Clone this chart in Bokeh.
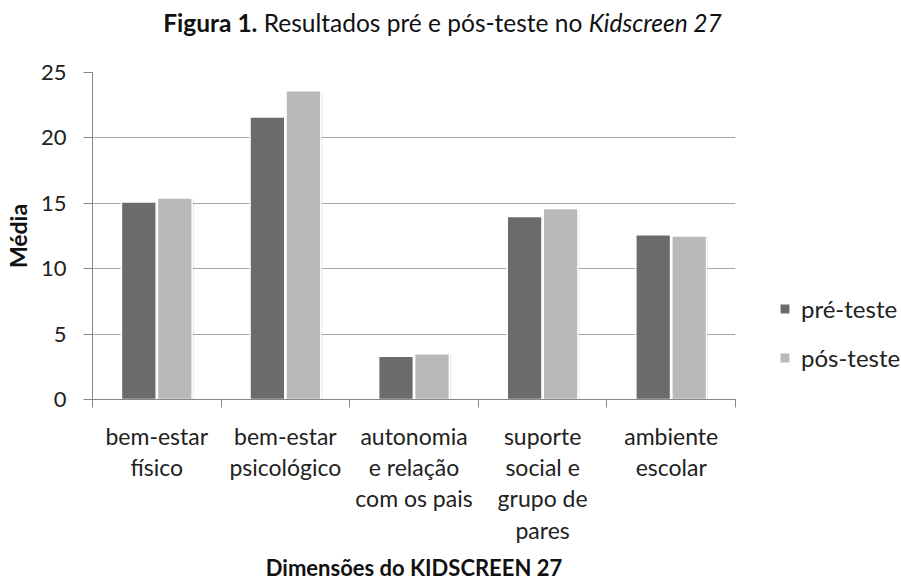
from bokeh.plotting import figure
from bokeh.models import (Range1d, LinearAxis, FixedTicker, Div,
                          Legend, LegendItem, ColumnDataSource)
from bokeh.layouts import column
from bokeh.transform import dodge
from bokeh.embed import file_html
from bokeh.resources import INLINE

categories = ["bem-estar\nfísico", "bem-estar\npsicológico", "autonomia\ne relação\ncom os pais",
              "suporte\nsocial e\ngrupo de\npares", "ambiente\nescolar"]
pre_teste = [15.1, 21.6, 3.3, 14.0, 12.6]
pos_teste = [15.4, 23.6, 3.5, 14.6, 12.5]
y_ticks = [0, 5, 10, 15, 20, 25]
series_names = ["pré-teste", "pós-teste"]
colors = ["#6b6b6b", "#b9b9b9"]
title_bold = "Figura 1."
title_plain = "Resultados pré e pós-teste no"
title_italic = "Kidscreen 27"

FONT = "Lato"
n = len(categories)
centers = [i + 0.5 for i in range(n)]
bounds = list(range(n + 1))

src = ColumnDataSource(dict(x=centers, pre=pre_teste, pos=pos_teste,
                            pre_s=[v - 0.08 for v in pre_teste], pos_s=[v - 0.08 for v in pos_teste]))

p = figure(frame_width=643, frame_height=327, x_range=Range1d(0, n), y_range=Range1d(0, 25),
           output_backend="svg", toolbar_location=None, x_axis_location=None,
           min_border_left=87, min_border_right=155, min_border_top=15, min_border_bottom=176)
p.outline_line_color = None
p.background_fill_color = "white"
p.border_fill_color = "white"

# grid
p.xgrid.grid_line_color = None
p.ygrid.grid_line_color = "#a6a6a6"
p.ygrid.grid_line_width = 1.2
p.yaxis.ticker = FixedTicker(ticks=y_ticks)

# y axis
p.yaxis.axis_line_color = "#878787"
p.yaxis.major_tick_line_color = "#878787"
p.yaxis.major_tick_out = 9
p.yaxis.major_tick_in = 0
p.yaxis.minor_tick_line_color = None
p.yaxis.major_label_text_font = FONT
p.yaxis.major_label_text_font_size = "22px"
p.yaxis.major_label_text_color = "#222222"
p.yaxis.major_label_standoff = 17
p.yaxis.axis_label = "Média"
p.yaxis.axis_label_text_font = FONT
p.yaxis.axis_label_text_font_style = "bold"
p.yaxis.axis_label_text_font_size = "23px"
p.yaxis.axis_label_text_color = "#111111"
p.yaxis.axis_label_standoff = 6

# x axis: labels at category centres, tick marks (minor) at category boundaries
x_axis = LinearAxis(ticker=FixedTicker(ticks=centers, minor_ticks=bounds),
                    major_label_overrides={c: lab for c, lab in zip(centers, categories)},
                    axis_line_color="#878787", major_tick_line_color=None,
                    major_tick_out=8, major_tick_in=0,
                    minor_tick_line_color="#878787", minor_tick_out=8, minor_tick_in=0,
                    major_label_text_font=FONT, major_label_text_font_size="23px",
                    major_label_text_color="#222222", major_label_standoff=14,
                    major_label_text_line_height=1.12,
                    axis_label="Dimensões do KIDSCREEN 27", axis_label_text_font=FONT,
                    axis_label_text_font_style="bold", axis_label_text_font_size="22px",
                    axis_label_text_color="#111111", axis_label_standoff=7)
p.add_layout(x_axis, "below")

# shadows
for key, off in (("pre_s", -0.14), ("pos_s", 0.14)):
    p.vbar(x=dodge("x", off + 0.012), top=key, bottom=-1, width=0.27,
           source=src, fill_color="#000000", fill_alpha=0.10, line_color=None)

r_pre = p.vbar(x=dodge("x", -0.14), top="pre", width=0.27, source=src,
               fill_color=colors[0], line_color="white", line_width=1.5)
r_pos = p.vbar(x=dodge("x", 0.14), top="pos", width=0.27, source=src,
               fill_color=colors[1], line_color="white", line_width=1.5)

legend = Legend(items=[LegendItem(label=series_names[0], renderers=[r_pre]),
                       LegendItem(label=series_names[1], renderers=[r_pos])],
                location=(43, 27), orientation="vertical", padding=0, margin=0,
                border_line_color=None, background_fill_alpha=0,
                glyph_width=13, glyph_height=13, label_standoff=10, spacing=20,
                label_text_font=FONT, label_text_font_size="24px", label_text_color="#222222")
p.add_layout(legend, "right")

title_html = (f'<b>{title_bold}</b> {title_plain} <i>{title_italic}</i>')
title_div = Div(text=title_html, width=885, height=57, margin=(0, 0, 0, 0),
                styles={"font-family": FONT, "font-size": "24.5px", "color": "#111111",
                        "text-align": "center", "line-height": "28px", "padding-top": "9px",
                        "width": "885px", "display": "block"})

layout = column(title_div, p, spacing=0)
open("out.html", "w").write(file_html(layout, INLINE))
